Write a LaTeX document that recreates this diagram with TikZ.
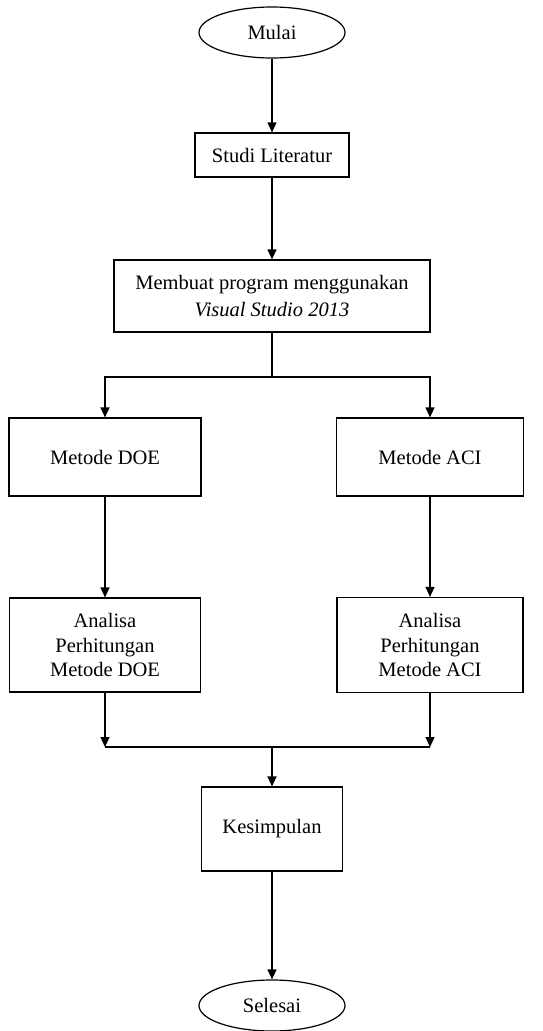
\documentclass[tikz,border=0pt]{standalone}
\usepackage{fontspec}
\setmainfont{Liberation Serif}
\usetikzlibrary{shapes,arrows.meta,positioning}

\begin{document}
\begin{tikzpicture}[x=1pt,y=-1pt,->,>={Triangle[length=10pt,width=9pt]},line width=1.2pt,
  font=\fontsize{20.5}{24.5}\selectfont]
\tikzstyle{terminal}=[ellipse,draw=black,text=black,minimum width=146pt,minimum height=51pt,inner sep=0pt]
\tikzstyle{proses}=[rectangle,draw=black,text=black,align=center,inner sep=2pt]
\useasboundingbox (0,0) rectangle (542,1031);
\node[terminal] (mulai) at (272,32.5) {Mulai};
\node[proses,minimum width=154pt,minimum height=44pt][below of=mulai,node distance=122.5pt](studi){Studi Literatur};
\node[proses,minimum width=316pt,minimum height=72pt,font=\fontsize{20.5}{27}\selectfont][below of=studi,node distance=141pt](membuat){Membuat program menggunakan\\\textit{Visual Studio 2013}};
\node[proses,minimum width=192pt,minimum height=78pt] (doe) at (105,457) {Metode DOE};
\node[proses,minimum width=187pt,minimum height=78pt][right of=doe,node distance=325pt](aci){Metode ACI};
\node[proses,minimum width=191pt,minimum height=94pt][below of=doe,node distance=188pt](anadoe){Analisa\\Perhitungan\\Metode DOE};
\node[proses,minimum width=186pt,minimum height=95pt][right of=anadoe,node distance=325pt](anaaci){Analisa\\Perhitungan\\Metode ACI};
\node[proses,minimum width=141pt,minimum height=84pt] (kesimpulan) at (272,829) {Kesimpulan};
\node[terminal][below of=kesimpulan,node distance=176.5pt](selesai){Selesai};
\coordinate (cabang) at (272,377);
\coordinate (gabung) at (272,747);
\draw (mulai) -- (studi);
\draw (studi) -- (membuat);
\draw[-] (membuat) -- (cabang);
\draw (cabang) -| (doe);
\draw (cabang) -| (aci);
\draw (doe) -- (anadoe);
\draw (aci) -- (anaaci);
\draw (anadoe) -- (anadoe |- gabung);
\draw (anaaci) -- (anaaci |- gabung);
\draw[-] (anadoe |- gabung) -- (anaaci |- gabung);
\draw (gabung) -- (kesimpulan.north);
\draw (kesimpulan) -- (selesai);
\end{tikzpicture}
\end{document}
